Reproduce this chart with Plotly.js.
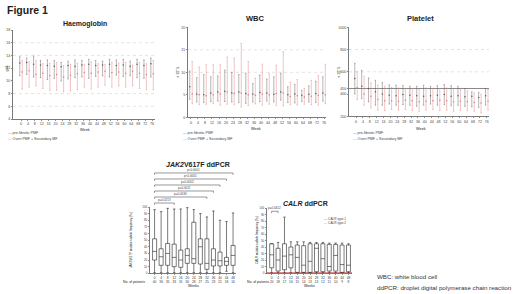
<!DOCTYPE html>
<html><head><meta charset="utf-8">
<script src="https://cdn.plot.ly/plotly-3.0.1.min.js"></script>
<style>html,body{margin:0;padding:0;background:#fff}#chart{width:520px;height:294px}</style>
</head><body><div id="chart"></div>
<script>
// ---------- data ----------
const weeks = [0,4,8,12,16,20,24,28,32,36,40,44,48,52,56,60,64,68,72,76];
const seriesNames = ['pre-fibrotic PMF', 'Overt PMF + Secondary MF'];

// Haemoglobin (g/dL): median, low, high
const hbPreMed = [12.8,12.9,12.6,12.5,12.4,12.3,12.2,12.4,12.3,12.5,12.6,12.4,12.5,12.6,12.4,12.5,12.3,12.6,12.4,12.7];
const hbPreLo  = [10.8,11.0,10.6,10.5,10.2,10.4,10.0,10.3,10.5,10.6,10.4,10.7,10.8,10.6,10.9,10.7,10.8,10.5,10.4,10.6];
const hbPreHi  = [13.8,13.6,13.9,13.2,13.3,13.2,12.9,13.1,13.3,13.2,13.4,13.2,13.1,13.4,13.3,13.4,13.1,13.4,13.3,13.6];
const hbOvMed  = [11.4,11.6,11.0,11.2,10.8,11.0,10.6,10.9,11.1,11.3,11.2,11.4,11.5,11.3,11.4,11.2,11.5,11.2,11.0,11.1];
const hbOvLo   = [8.7,9.0,9.2,8.8,8.5,8.5,8.3,8.4,8.6,9.0,8.7,9.0,9.3,9.0,9.2,9.0,9.2,8.8,8.6,8.6];
const hbOvHi   = [13.2,13.0,13.2,12.7,12.8,12.9,12.4,12.6,12.8,12.6,13.0,12.7,12.6,12.9,12.8,12.9,12.5,12.9,12.7,13.2];
const hbTicks  = [4,6,8,10,12,14,16,18];
const hbRefLines = [6,8,14,16];

// WBC (x10^9/L)
const wbcPreMed = [6.8,5.2,5.0,5.4,5.6,5.8,5.4,5.6,5.3,5.2,5.5,5.4,5.1,5.6,5.0,5.2,4.9,5.1,5.3,5.4];
const wbcPreLo  = [4.0,3.4,3.3,3.5,3.6,3.5,3.4,3.3,3.1,3.4,3.5,3.6,3.4,3.8,3.3,3.2,3.5,3.4,3.3,3.6];
const wbcPreHi  = [10.3,8.8,9.5,9.0,9.2,10.5,10.0,9.5,9.8,7.5,9.4,8.5,9.0,9.8,6.8,7.3,6.0,7.0,8.0,9.0];
const wbcOvMed  = [5.2,5.0,4.8,5.0,5.2,5.6,5.3,5.4,5.0,4.9,5.2,5.0,5.3,5.4,4.6,4.8,4.5,4.7,4.9,5.0];
const wbcOvLo   = [3.0,2.8,2.9,3.0,2.7,2.9,2.8,2.3,2.6,3.0,2.7,2.9,2.6,2.5,2.8,2.7,2.9,2.8,2.7,3.0];
const wbcOvHi   = [12.4,11.2,11.7,11.7,11.7,13.4,13.2,16.4,12.4,8.7,11.8,9.8,11.6,14.6,7.8,8.4,6.4,8.2,9.3,11.8];
const wbcTicks  = [0,5,10,15,20];
const wbcRefLines = [10,15];

// Platelet (x10^9/L)
const pltPreMed = [540,470,450,420,400,390,385,395,390,385,380,385,390,395,380,385,375,380,370,385];
const pltPreLo  = [400,360,330,300,300,310,300,305,300,290,300,310,300,305,295,300,290,285,280,300];
const pltPreHi  = [677,613,545,523,504,483,480,478,470,470,480,470,475,485,475,470,450,420,415,450];
const pltOvMed  = [460,400,380,350,340,340,335,345,340,330,335,340,345,340,330,335,330,325,320,335];
const pltOvLo   = [351,300,275,254,250,260,255,260,250,245,255,260,250,255,245,250,250,245,230,255];
const pltOvHi   = [600,560,500,480,470,460,455,450,450,445,455,450,450,455,450,445,430,410,400,440];
const pltTicks  = [200,400,450,600,800,1000];
const pltRefLines = [600,800];
const pltLimit = 450;

// JAK2V617F ddPCR (% allele frequency)
const boxWeeks    = [0,4,8,12,16,20,24,28,32,36,40,44,48];
const jakPatients = [40,36,35,33,31,30,28,27,25,23,21,18,16];
const jakMin = [1,1,1,1,1,1,1,1,1,1,1,3,1];
const jakQ1  = [20,12,12,10,9,15,15,14,6,11,11,12,12];
const jakMed = [33,25,30,24,20,27,22,40,15,20,19,18,27];
const jakQ3  = [52,37,45,44,35,37,77,52,52,37,32,24,42];
const jakMax = [96,93,98,97,97,99,96,90,85,94,80,78,91];
const jakBracketFrom  = [0,0,0,0,0,0];
const jakBracketTo    = [12,11,10,9,8,3];
const jakBracketLabel = ['p<0.0001','p<0.0001','p=0.0002','p=0.0011','p=0.0036','p=0.0213'];

// CALR ddPCR
const calrPatients = [20,18,17,16,15,14,13,13,12,11,10,9,8];
const calrMin = [0,0,0,0,0,0,0,0,0,0,0,0,0];
const calrQ1  = [8,3,5,8,1,1,1,2,2,3,3,1,2];
const calrMed = [28,20,26,28,24,12,18,38,22,10,27,13,12];
const calrQ3  = [45,38,45,40,43,42,45,45,45,44,44,43,43];
const calrMax = [45,47,86,48,48,48,47,47,47,46,46,46,45];
const calrBracketFrom = [0], calrBracketTo = [1], calrBracketLabel = ['p=0.0412'];
const calrBracketLevel = 95;
const calrThreshold = 0.5;
const calrLegend = ['CALR type 1','CALR type 2'];

const footnotes = ['WBC: white blood cell', 'ddPCR: droplet digital polymerase chain reaction'];

// ---------- styling helpers ----------
const F = 'Liberation Sans, Arial, sans-serif';
const C1 = '#5a5a5a', C2 = '#e27c7c';
const W = 520, H = 294;
const px = x => x / W, py = y => 1 - y / H;

function axis(extra) {
  return Object.assign({
    showgrid: false, zeroline: false, showline: true, linecolor: '#222', linewidth: 0.6,
    ticks: 'outside', ticklen: 1.5, tickwidth: 0.5, tickcolor: '#222',
    tickfont: { size: 3.6, color: '#444', family: F }, fixedrange: true
  }, extra);
}
function eb(med, lo, hi, color) {
  return { type: 'data', symmetric: false,
    array: hi.map((h, i) => h - med[i]), arrayminus: lo.map((l, i) => med[i] - l),
    color: color, thickness: 0.45, width: 0.7 };
}
function panel(xa, ya, m1, l1, h1, m2, l2, h2) {
  return [
    { type: 'scatter', mode: 'markers', x: weeks.map(w => w - 0.7), y: m1, error_y: eb(m1, l1, h1, C1),
      marker: { color: C1, size: 1.5 }, xaxis: xa, yaxis: ya, showlegend: false, hoverinfo: 'skip', cliponaxis: false },
    { type: 'scatter', mode: 'markers', x: weeks.map(w => w + 0.7), y: m2, error_y: eb(m2, l2, h2, C2),
      marker: { color: C2, size: 1.5 }, xaxis: xa, yaxis: ya, showlegend: false, hoverinfo: 'skip', cliponaxis: false }
  ];
}
function boxTrace(xa, ya, q1, med, q3, lo, hi) {
  return { type: 'box', x: q1.map((_, i) => i), q1: q1, median: med, q3: q3, lowerfence: lo, upperfence: hi,
    xaxis: xa, yaxis: ya, fillcolor: '#fff', line: { color: '#222', width: 0.6 }, width: 0.62, whiskerwidth: 0.6,
    boxpoints: false, showlegend: false, hoverinfo: 'skip' };
}
function brackets(xa, ya, from, to, levels, drop) {
  return from.map((f, i) => ({ type: 'scatter', mode: 'lines', x: [f, f, to[i], to[i]],
    y: [levels[i] - drop, levels[i], levels[i], levels[i] - drop], xaxis: xa, yaxis: ya,
    line: { color: '#333', width: 0.5 }, showlegend: false, hoverinfo: 'skip', cliponaxis: false }));
}
function note(x, y, t, size, opts) {
  return Object.assign({ xref: 'paper', yref: 'paper', x: px(x), y: py(y), text: t, showarrow: false,
    font: { family: F, size: size, color: '#222' }, xanchor: 'center', yanchor: 'middle' }, opts || {});
}
function hline(xa, ya, v, color, width, dash) {
  return { type: 'line', xref: xa + ' domain', yref: ya, x0: 0, x1: 1, y0: v, y1: v, layer: 'below',
    line: { color: color, width: width, dash: dash } };
}

// ---------- traces ----------
const jakLevels = jakBracketFrom.map((_, i) => jakBracketFrom.length - i);
let data = [];
data = data.concat(panel('x', 'y', hbPreMed, hbPreLo, hbPreHi, hbOvMed, hbOvLo, hbOvHi));
data = data.concat(panel('x2', 'y2', wbcPreMed, wbcPreLo, wbcPreHi, wbcOvMed, wbcOvLo, wbcOvHi));
data = data.concat(panel('x3', 'y3', pltPreMed, pltPreLo, pltPreHi, pltOvMed, pltOvLo, pltOvHi));
data.push(boxTrace('x4', 'y4', jakQ1, jakMed, jakQ3, jakMin, jakMax));
data = data.concat(brackets('x5', 'y5', jakBracketFrom, jakBracketTo, jakLevels, 0.3));
data.push(boxTrace('x6', 'y6', calrQ1, calrMed, calrQ3, calrMin, calrMax));
data = data.concat(brackets('x6', 'y6', calrBracketFrom, calrBracketTo, [calrBracketLevel], 3));

// ---------- layout ----------
const weekAxis = { tickvals: weeks, ticktext: weeks.map(String) };
const jakTickText = boxWeeks.map((w, i) => w + '<br>' + jakPatients[i]);
const calrTickText = boxWeeks.map((w, i) => w + '<br>' + calrPatients[i]);

const annotations = [
  note(5, 10, '<b>Figure 1</b>', 10.5, { xanchor: 'left' }),
  note(85, 24, '<b>Haemoglobin</b>', 7),
  note(255, 19, '<b>WBC</b>', 7.5),
  note(420, 19, '<b>Platelet</b>', 7.5),
  note(85, 129.5, 'Week', 3.8),
  note(256, 128.5, 'Week', 3.8),
  note(421, 128.5, 'Week', 3.8),
  note(6.5, 68, 'g/dL', 3.6, { textangle: -90 }),
  note(177.5, 72, 'x 10<sup>9</sup>/L', 3.6, { textangle: -90 }),
  note(338.5, 72, 'x 10<sup>9</sup>/L', 3.6, { textangle: -90 }),
  note(198, 164, '<b><i>JAK2</i>V617F ddPCR</b>', 7),
  note(305, 203.5, '<b><i>CALR</i> ddPCR</b>', 7),
  note(131, 240, '<i>JAK2</i>V617F mutation allele frequency (%)', 3, { textangle: -90 }),
  note(257, 240, '<i>CALR</i> mutation allele frequency (%)', 3, { textangle: -90 }),
  note(134, 281.5, 'No. of patients', 3.4),
  note(258, 281.5, 'No. of patients', 3.4),
  note(193, 286, 'Weeks', 3.6),
  note(309, 286, 'Weeks', 3.6),
  note(375, 276, footnotes[0], 6.2, { xanchor: 'left', font: { family: F, size: 6.2, color: '#333' } }),
  note(375, 287, footnotes[1], 6.2, { xanchor: 'left', font: { family: F, size: 6.2, color: '#333' } })
];
// legends for the three time-course panels
[6, 181, 351].forEach(lx => {
  seriesNames.forEach((name, i) => {
    annotations.push(note(lx, 133 + i * 6.3,
      '<span style="color:' + (i ? C2 : C1) + '">—</span> ' + name, 3.6,
      { xanchor: 'left', font: { family: F, size: 3.6, color: '#444' } }));
  });
});
// CALR legend
calrLegend.forEach((name, i) => {
  annotations.push(note(322, 219 + i * 3.8, '<span style="color:' + (i ? C2 : C1) + '">—</span> ' + name, 3.2,
    { xanchor: 'left', font: { family: F, size: 3.2, color: '#444' } }));
});
// bracket labels
jakBracketLabel.forEach((t, i) => {
  annotations.push({ xref: 'x5', yref: 'y5', x: (jakBracketFrom[i] + jakBracketTo[i]) / 2, y: jakLevels[i] + 0.55,
    text: t, showarrow: false, font: { family: F, size: 3, color: '#444' } });
});
calrBracketLabel.forEach((t, i) => {
  annotations.push({ xref: 'x6', yref: 'y6', x: (calrBracketFrom[i] + calrBracketTo[i]) / 2, y: calrBracketLevel + 4.5,
    text: t, showarrow: false, font: { family: F, size: 3, color: '#444' } });
});

const shapes = [];
hbRefLines.forEach(v => shapes.push(hline('x', 'y', v, '#c8c8c8', 0.5, 'dot')));
wbcRefLines.forEach(v => shapes.push(hline('x2', 'y2', v, '#c8c8c8', 0.5, 'dot')));
pltRefLines.forEach(v => shapes.push(hline('x3', 'y3', v, '#c8c8c8', 0.5, 'dot')));
shapes.push(hline('x3', 'y3', pltLimit, '#555', 0.7, 'solid'));
shapes.push(hline('x6', 'y6', calrThreshold, '#d23030', 0.7, 'solid'));

const layout = {
  width: W, height: H, margin: { l: 0, r: 0, t: 0, b: 0 }, paper_bgcolor: '#fff', plot_bgcolor: 'rgba(0,0,0,0)',
  showlegend: false, font: { family: F, color: '#222' },
  xaxis: axis(Object.assign({ domain: [px(13), px(155)], range: [-4.64, 77.7], anchor: 'y' }, weekAxis)),
  yaxis: axis({ domain: [py(119), py(30)], range: [4, 18], tickvals: hbTicks, anchor: 'x' }),
  xaxis2: axis(Object.assign({ domain: [px(188), px(326)], range: [-1.7, 77.1], anchor: 'y2' }, weekAxis)),
  yaxis2: axis({ domain: [py(117.3), py(27.3)], range: [0, 20], tickvals: wbcTicks, anchor: 'x2' }),
  xaxis3: axis(Object.assign({ domain: [px(349), px(489)], range: [-4.07, 77.3], anchor: 'y3' }, weekAxis)),
  yaxis3: axis({ domain: [py(116.3), py(27.3)], range: [200, 1000], tickvals: pltTicks, anchor: 'x3' }),
  xaxis4: axis({ domain: [px(150), px(236)], range: [-0.7, 12.45], anchor: 'y4',
    tickvals: boxWeeks.map((_, i) => i), ticktext: jakTickText, tickfont: { size: 3.2, color: '#333', family: F } }),
  yaxis4: axis({ domain: [py(273.3), py(207)], range: [0, 100], dtick: 10, anchor: 'x4', tickfont: { size: 3, color: '#444', family: F } }),
  xaxis5: { domain: [px(150), px(236)], range: [-0.7, 12.45], anchor: 'y5', visible: false, fixedrange: true },
  yaxis5: { domain: [py(206), py(168)], range: [0.5, 6.83], anchor: 'x5', visible: false, fixedrange: true },
  xaxis6: axis({ domain: [px(267), px(352)], range: [-0.73, 12.55], anchor: 'y6',
    tickvals: boxWeeks.map((_, i) => i), ticktext: calrTickText, tickfont: { size: 3.2, color: '#333', family: F } }),
  yaxis6: axis({ domain: [py(273), py(208)], range: [0, 100], dtick: 10, anchor: 'x6', tickfont: { size: 3, color: '#444', family: F } }),
  annotations: annotations,
  shapes: shapes
};

Plotly.newPlot('chart', data, layout, { staticPlot: true, displayModeBar: false });
</script>
</body></html>
